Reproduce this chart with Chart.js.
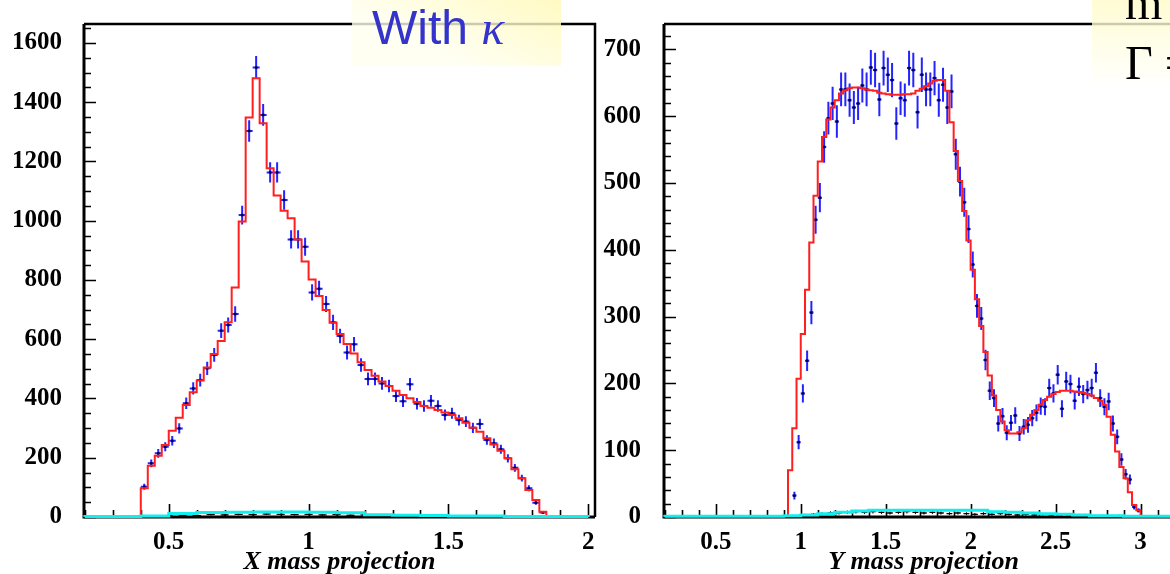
<!DOCTYPE html>
<html>
<head>
<meta charset="utf-8">
<script src="https://cdn.jsdelivr.net/npm/chart.js@4.4.1/dist/chart.umd.min.js"></script>
<style>
  html, body { margin: 0; padding: 0; background: #fff; }
  body { width: 1170px; height: 574px; overflow: hidden; position: relative; }
  canvas { position: absolute; top: 0; }
  #c-x { left: 0; }
  #c-y { left: 600px; }
  .note {
    position: absolute;
    top: 0;
    background: linear-gradient(205deg, rgba(255, 249, 180, 0.8), rgba(255, 255, 238, 0.8) 65%);
  }
  #note-kappa { left: 352px; width: 209px; height: 66px; overflow: hidden; }
  #note-kappa span {
    position: absolute; left: 20px; top: 0; white-space: nowrap;
    font: 48px "Liberation Sans", Arial, sans-serif; color: #3434cc;
  }
  #note-kappa i { font-family: "Liberation Serif", serif; }
  #note-fit {
    left: 1092px; width: 100px; height: 86px;
    background: linear-gradient(180deg, rgba(255, 251, 200, 0.8), rgba(255, 255, 240, 0.8) 75%, rgba(255, 255, 255, 0));
  }
  #note-fit span {
    position: absolute; left: 33px; white-space: nowrap;
    font: 48px "Liberation Serif", "Times New Roman", serif; color: #000;
  }
</style>
</head>
<body>
<canvas id="c-x" width="600" height="574"></canvas>
<canvas id="c-y" width="600" height="574"></canvas>
<div class="note" id="note-kappa"><span>With <i>κ</i></span></div>
<div class="note" id="note-fit"><span style="top:-25px">m =</span><span style="top:35px">Γ =</span></div>
<script>
// ---- X mass projection (left panel), bins of 0.025 from 0.4
const X_BIN_START = 0.4;
const X_BIN_WIDTH = 0.025;
const X_FIT = [
  97, 173, 207, 243, 291, 335, 378, 421, 461, 505, 550, 594, 657, 775, 997,
  1348, 1481, 1329, 1177, 1085, 1034, 1008, 937, 862, 802, 746, 699, 656, 618,
  584, 552, 522, 496, 477, 457, 442, 426, 412, 401, 388, 375, 369, 361, 353,
  344, 333, 318, 301, 288, 266, 245, 224, 198, 161, 131, 91, 57, 18,
];
const X_DATA = [
  102, 181, 215, 237, 257, 299, 384, 434, 462, 502, 547, 629, 648, 685, 1019,
  1303, 1517, 1357, 1163, 1163, 1070, 937, 937, 912, 758, 770, 719, 657, 611,
  555, 583, 513, 466, 466, 451, 442, 408, 391, 448, 382, 375, 392, 375, 344,
  350, 327, 322, 301, 314, 260, 249, 229, 198, 166, 131, 97, 48, 15,
];
// background component near zero, bins of 0.1 from 0.2
const X_BKG_START = 0.2;
const X_BKG_WIDTH = 0.1;
const X_BKG = [2, 2, 3, 12, 15, 16, 17, 17, 16, 14, 8, 6, 5, 3, 3, 2, 2, 2];
// small black points near zero, every 0.05 from 0.475
const X_LOW_START = 0.475;
const X_LOW_STEP = 0.05;
const X_LOW = [4, 6, 5, 8, 7, 9, 8, 10, 9, 8, 9, 7, 8, 6, 7, 5, 6, 5, 4, 5, 4, 3, 4, 3, 2, 3, 2, 2];

// ---- Y mass projection (right panel), bins of 0.025 from 0.925
const Y_BIN_START = 0.925;
const Y_BIN_WIDTH = 0.025;
const Y_FIT = [
  70, 133, 207, 274, 340, 411, 481, 532, 569, 595, 613, 624, 634, 639, 642,
  643, 643, 642, 640, 639, 638, 635, 634, 633, 632, 632, 632, 633, 633, 634,
  638, 641, 645, 649, 653, 654, 654, 638, 591, 548, 503, 458, 414, 370, 326,
  286, 247, 212, 182, 160, 143, 130, 125, 125, 127, 133, 145, 153, 160, 168,
  175, 180, 184, 187, 189, 189, 189, 188, 187, 186, 184, 182, 178, 174, 168,
  150, 123, 98, 75, 58, 37, 18, 10,
];
const Y_DATA = [
  null, 32, 112, 185, 234, 306, 445, 478, 554, 597, 619, 592, 640, 640, 624,
  613, 619, 646, 640, 673, 669, 625, 672, 662, 654, 589, 627, 624, 672, 669,
  606, 662, 640, 640, 657, 624, 647, 613, 637, 543, 502, 471, 431, 378, 316,
  297, 235, 189, 178, 140, 151, 126, 141, 152, 125, 135, 138, 148, 156, 166,
  165, 193, 185, 213, 162, 203, 199, 174, 195, 184, 190, 193, 216, 178, 165,
  173, 140, 120, 86, 64, 56, 15, 10,
];
const Y_BKG_START = 0.2;
const Y_BKG_WIDTH = 0.1;
const Y_BKG = [
  1, 1, 1, 1, 1, 1, 1, 2, 3, 5, 7, 9, 10, 10, 10, 10, 10, 10, 10, 8, 7, 6, 5,
  4, 3, 2, 2, 1, 1, 1,
];
const Y_LOW_START = 1.0;
const Y_LOW_STEP = 0.05;
const Y_LOW = [
  3, 4, 5, 6, 6, 7, 8, 7, 8, 7, 6, 7, 8, 7, 6, 7, 6, 5, 6, 5, 4, 5, 4, 5, 4, 3,
  4, 3, 4, 3, 2, 3, 2, 3, 2, 2, 1, 2, 1, 1,
];

const RED = "#ff1f1f";
const BLUE = "#2424ff";
const CYAN = "#10eeee";
const TICK_FONT = { family: "'Liberation Serif', 'Times New Roman', serif", size: 25, weight: "bold" };
const TITLE_FONT = { family: "'Liberation Serif', 'Times New Roman', serif", size: 26, weight: "bold", style: "italic", lineHeight: 0.92 };

const poissonError = (n) => Math.sqrt(n);

function stepPoints(start, width, values) {
  const pts = [{ x: start, y: 0 }];
  values.forEach((v, i) => pts.push({ x: start + i * width, y: v }));
  const end = start + values.length * width;
  pts.push({ x: end, y: values[values.length - 1] }, { x: end, y: 0 });
  return pts;
}

function centerPoints(start, width, values) {
  return values.map((v, i) => ({ x: start + (i + 0.5) * width, y: v }));
}

// ROOT style frame with inward ticks
const rootFrame = {
  id: "rootFrame",
  beforeDatasetsDraw(chart, args, opts) {
    const { ctx, chartArea: a } = chart;
    const sx = chart.scales.x;
    const sy = chart.scales.y;
    ctx.save();
    ctx.strokeStyle = "#000";
    ctx.lineWidth = 1.6;
    ctx.beginPath();
    for (let i = Math.ceil(sx.min / opts.xMinor - 1e-6); i * opts.xMinor <= sx.max + 1e-9; i++) {
      const v = i * opts.xMinor;
      const r = v / opts.xMajor;
      const len = Math.abs(r - Math.round(r)) < 1e-6 ? 13 : 7;
      const px = Math.round(sx.getPixelForValue(v)) + 0.5;
      ctx.moveTo(px, a.bottom);
      ctx.lineTo(px, a.bottom - len);
    }
    for (let i = 0; i * opts.yMinor <= sy.max; i++) {
      const v = i * opts.yMinor;
      const len = v % opts.yMajor === 0 ? 12 : 7;
      const py = Math.round(sy.getPixelForValue(v)) + 0.5;
      ctx.moveTo(a.left, py);
      ctx.lineTo(a.left + len, py);
    }
    ctx.stroke();
    ctx.lineWidth = 3;
    ctx.beginPath();
    ctx.moveTo(a.left, a.top);
    ctx.lineTo(a.left, a.bottom);
    ctx.lineTo(a.right, a.bottom);
    ctx.stroke();
    ctx.lineWidth = 2.5;
    ctx.beginPath();
    ctx.moveTo(a.left, a.top);
    ctx.lineTo(a.right, a.top);
    ctx.lineTo(a.right, a.bottom);
    ctx.stroke();
    ctx.restore();
  },
};

const errorBars = {
  id: "errorBars",
  beforeDatasetDraw(chart, args) {
    const ds = chart.data.datasets[args.index];
    if (!ds.errorBars) return;
    const { ctx } = chart;
    const sx = chart.scales.x;
    const sy = chart.scales.y;
    ctx.save();
    ctx.strokeStyle = ds.errorColor;
    ctx.lineWidth = ds.errorWidth;
    ctx.beginPath();
    ds.data.forEach((p) => {
      if (p.y == null) return;
      const e = poissonError(p.y);
      const px = sx.getPixelForValue(p.x);
      const py = sy.getPixelForValue(p.y);
      ctx.moveTo(px, sy.getPixelForValue(p.y - e));
      ctx.lineTo(px, sy.getPixelForValue(p.y + e));
      ctx.moveTo(sx.getPixelForValue(p.x - ds.halfWidth), py);
      ctx.lineTo(sx.getPixelForValue(p.x + ds.halfWidth), py);
    });
    ctx.stroke();
    ctx.restore();
  },
};

function makeChart(id, cfg) {
  return new Chart(document.getElementById(id), {
    type: "scatter",
    data: {
      datasets: [
        {
          type: "line",
          data: stepPoints(cfg.bkgStart, cfg.bkgWidth, cfg.bkg),
          stepped: "before",
          borderColor: CYAN,
          borderWidth: 3,
          pointRadius: 0,
          fill: false,
          clip: 4,
        },
        {
          data: centerPoints(cfg.lowStart, cfg.lowStep, cfg.low),
          pointStyle: "line",
          pointRadius: 3,
          borderColor: "#000",
          borderWidth: 1,
          errorBars: true,
          errorColor: "#000",
          errorWidth: 1,
          halfWidth: cfg.lowStep * 0.3,
          clip: 4,
        },
        {
          type: "line",
          data: stepPoints(cfg.binStart, cfg.binWidth, cfg.fit),
          stepped: "before",
          borderColor: RED,
          borderWidth: 2,
          pointRadius: 0,
          fill: false,
        },
        {
          data: centerPoints(cfg.binStart, cfg.binWidth, cfg.data),
          pointStyle: "rect",
          pointRadius: 1.8,
          backgroundColor: "#000050",
          borderWidth: 0,
          errorBars: true,
          errorColor: BLUE,
          errorWidth: 2,
          halfWidth: cfg.binWidth * 0.5,
        },
      ],
    },
    options: {
      responsive: false,
      animation: false,
      devicePixelRatio: 1,
      layout: { padding: { top: 24, right: cfg.padRight, left: 0, bottom: 0 } },
      plugins: {
        legend: { display: false },
        tooltip: { enabled: false },
        rootFrame: cfg.ticks,
      },
      scales: {
        x: {
          type: "linear",
          min: cfg.xMin,
          max: cfg.xMax,
          grid: { display: false, drawTicks: false },
          border: { display: false },
          ticks: {
            stepSize: 0.5,
            includeBounds: false,
            padding: 11,
            color: "#000",
            font: TICK_FONT,
            callback: (v) => String(Math.round(v * 10) / 10),
          },
          title: {
            display: true,
            text: cfg.title,
            color: "#000",
            font: TITLE_FONT,
            padding: { top: 0, bottom: 0 },
          },
          afterFit: (s) => {
            s.height = 57;
            s.paddingLeft = 0;
            s.paddingRight = 0;
          },
        },
        y: {
          type: "linear",
          min: 0,
          max: cfg.yMax,
          grid: { display: false, drawTicks: false },
          border: { display: false },
          ticks: {
            stepSize: cfg.ticks.yMajor,
            includeBounds: false,
            padding: cfg.yPad,
            color: "#000",
            font: TICK_FONT,
            callback: (v) => String(v),
          },
          afterFit: (s) => {
            s.width = cfg.yWidth;
            s.paddingTop = 0;
            s.paddingBottom = 0;
          },
        },
      },
    },
    plugins: [rootFrame, errorBars],
  });
}

makeChart("c-x", {
  binStart: X_BIN_START, binWidth: X_BIN_WIDTH, fit: X_FIT, data: X_DATA,
  bkgStart: X_BKG_START, bkgWidth: X_BKG_WIDTH, bkg: X_BKG,
  lowStart: X_LOW_START, lowStep: X_LOW_STEP, low: X_LOW,
  xMin: 0.197, xMax: 2.024, yMax: 1664,
  yWidth: 84, yPad: 22, padRight: 3,
  title: "X mass projection",
  ticks: { xMajor: 0.5, xMinor: 0.1, yMajor: 200, yMinor: 50 },
});

makeChart("c-y", {
  binStart: Y_BIN_START, binWidth: Y_BIN_WIDTH, fit: Y_FIT, data: Y_DATA,
  bkgStart: Y_BKG_START, bkgWidth: Y_BKG_WIDTH, bkg: Y_BKG,
  lowStart: Y_LOW_START, lowStep: Y_LOW_STEP, low: Y_LOW,
  xMin: 0.195, xMax: 3.25, yMax: 738,
  yWidth: 64, yPad: 23, padRight: 17,
  title: "Y mass projection",
  ticks: { xMajor: 0.5, xMinor: 0.1, yMajor: 100, yMinor: 20 },
});
</script>
</body>
</html>
